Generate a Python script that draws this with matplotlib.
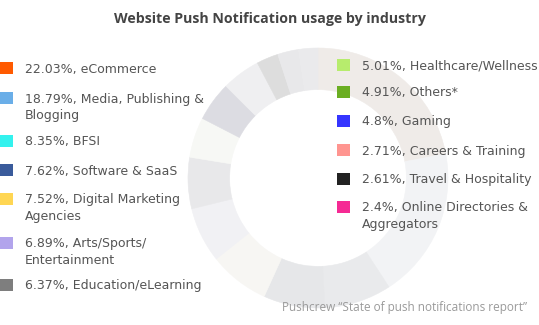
import matplotlib
matplotlib.use("Agg")
import matplotlib.pyplot as plt
from matplotlib.patches import Rectangle

W, H = 539, 325

# industry share of website push notification usage (%)
industries = [
    "eCommerce", "Media, Publishing &\nBlogging", "BFSI", "Software & SaaS",
    "Digital Marketing\nAgencies", "Arts/Sports/\nEntertainment", "Education/eLearning",
    "Healthcare/Wellness", "Others*", "Gaming", "Careers & Training",
    "Travel & Hospitality", "Online Directories &\nAggregators",
]
shares = [22.03, 18.79, 8.35, 7.62, 7.52, 6.89, 6.37, 5.01, 4.91, 4.8, 2.71, 2.61, 2.4]
share_labels = ["22.03%", "18.79%", "8.35%", "7.62%", "7.52%", "6.89%", "6.37%",
                "5.01%", "4.91%", "4.8%", "2.71%", "2.61%", "2.4%"]

legend_colors = ["#ff5a00", "#6aaee8", "#33f2ee", "#3a5b9b", "#ffd653", "#b2a4ec", "#7e7e7e",
                 "#b7ec6d", "#6bae22", "#3535ff", "#ff9590", "#222222", "#f52a94"]
# the ring itself is drawn in washed-out tones
ring_colors = ["#efebe8", "#f2f3f5", "#e9eaec", "#e6e7e9", "#f7f6f3", "#f1f1f4", "#e8e8ea",
               "#f7f8f5", "#dcdce2", "#efeff1", "#dddddd", "#e8e8ea", "#eaeaec"]

# first-line centre (px from top) of each legend entry
left_rows = [68, 98, 141, 170, 199, 243, 285]
right_rows = [65, 92, 121, 150, 179, 207]
line_step = 16.5


def fx(x):
    return x / W


def fy(y):
    return 1 - y / H


fig = plt.figure(figsize=(W / 100, H / 100), dpi=100)
fig.patch.set_facecolor("white")

# donut
cx, cy, R = 318, 178, 130
ax = fig.add_axes([fx(cx - R), fy(cy + R), 2 * R / W, 2 * R / H])
wedges, _ = ax.pie(shares, colors=ring_colors, startangle=90, counterclock=False, radius=1,
                   wedgeprops=dict(width=0.32, linewidth=0.4))
for w in wedges:
    w.set_edgecolor(w.get_facecolor())
ax.set_xlim(-1, 1)
ax.set_ylim(-1, 1)
ax.set_aspect("auto")
ax.axis("off")

fig.text(fx(270), fy(19), "Website Push Notification usage by industry",
         ha="center", va="center", fontsize=10.2, fontweight="bold",
         family="Open Sans", color="#444444")


def legend_entry(i, x_box, x_text, y):
    fig.add_artist(Rectangle((fx(x_box), fy(y + 6)), 13 / W, 12 / H,
                             transform=fig.transFigure, facecolor=legend_colors[i],
                             edgecolor="none"))
    lines = f"{share_labels[i]}, {industries[i]}".split("\n")
    for n, line in enumerate(lines):
        fig.text(fx(x_text), fy(y + 4.5 + n * line_step), line,
                 ha="left", va="baseline", fontsize=9, color="#555555",
                 family="DejaVu Sans")


for k, y in enumerate(left_rows):
    legend_entry(k, 0, 25, y)
for k, y in enumerate(right_rows):
    legend_entry(len(left_rows) + k, 337, 362, y)

fig.text(fx(527), fy(307), "Pushcrew \u201cState of push notifications report\u201d",
         ha="right", va="center", fontsize=8.5, color="#9a9a9a", family="Open Sans")

fig.savefig("out.png", dpi=100)
